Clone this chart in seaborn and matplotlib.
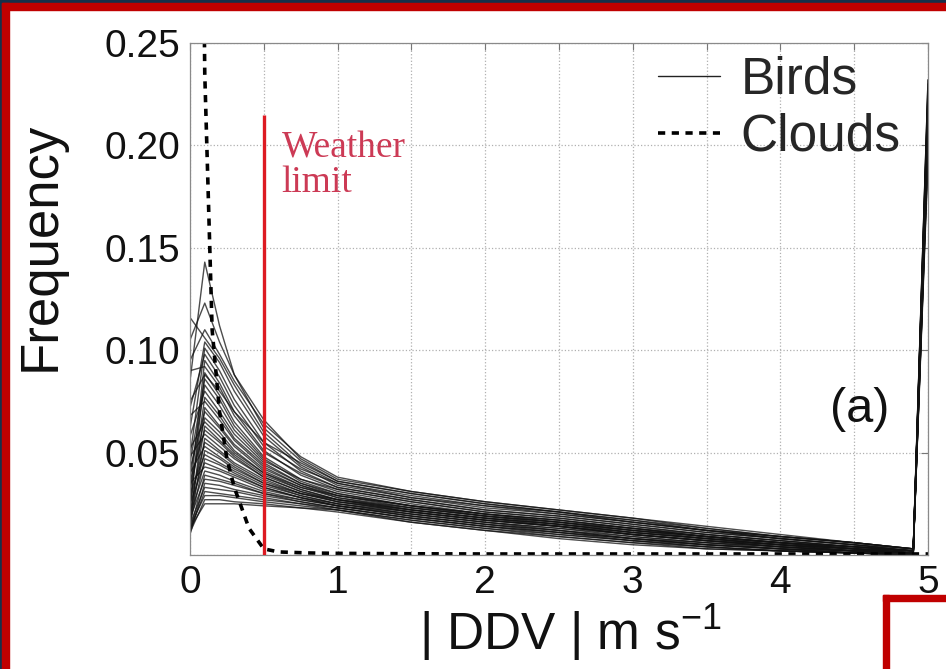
import numpy as np
import pandas as pd
import matplotlib
matplotlib.use("Agg")
import matplotlib.pyplot as plt
import seaborn as sns
from matplotlib.lines import Line2D
from matplotlib.patches import Rectangle

# ---------------- data ----------------
ddv = [0.0, 0.1, 0.2, 0.3, 0.5, 0.75, 1.0, 1.5, 2.0, 2.5, 3.0, 3.5, 4.0, 4.5, 4.9, 5.0]

b01 = [0.085, 0.143, 0.112, 0.088, 0.062, 0.046, 0.036, 0.030, 0.025, 0.021, 0.017, 0.013, 0.009, 0.006, 0.003, 0.228]
b02 = [0.105, 0.123, 0.104, 0.088, 0.066, 0.047, 0.037, 0.031, 0.026, 0.022, 0.018, 0.014, 0.010, 0.006, 0.003, 0.232]
b03 = [0.116, 0.106, 0.096, 0.083, 0.060, 0.044, 0.035, 0.029, 0.024, 0.021, 0.016, 0.012, 0.009, 0.006, 0.003, 0.215]
b04 = [0.062, 0.104, 0.094, 0.080, 0.058, 0.043, 0.034, 0.028, 0.023, 0.020, 0.016, 0.012, 0.008, 0.005, 0.003, 0.222]
b05 = [0.048, 0.101, 0.090, 0.076, 0.055, 0.041, 0.033, 0.027, 0.022, 0.019, 0.015, 0.011, 0.008, 0.005, 0.002, 0.205]
b06 = [0.072, 0.098, 0.087, 0.073, 0.053, 0.042, 0.035, 0.028, 0.024, 0.020, 0.016, 0.012, 0.009, 0.006, 0.003, 0.218]
b07 = [0.030, 0.095, 0.084, 0.070, 0.051, 0.039, 0.032, 0.026, 0.021, 0.018, 0.014, 0.010, 0.007, 0.004, 0.002, 0.210]
b08 = [0.090, 0.092, 0.082, 0.068, 0.050, 0.040, 0.033, 0.027, 0.022, 0.019, 0.015, 0.011, 0.008, 0.005, 0.002, 0.226]
b09 = [0.022, 0.089, 0.078, 0.065, 0.048, 0.037, 0.031, 0.025, 0.020, 0.017, 0.013, 0.009, 0.006, 0.004, 0.002, 0.195]
b10 = [0.045, 0.086, 0.076, 0.063, 0.047, 0.036, 0.030, 0.024, 0.020, 0.016, 0.012, 0.009, 0.006, 0.003, 0.002, 0.212]
b11 = [0.038, 0.083, 0.073, 0.061, 0.046, 0.037, 0.032, 0.026, 0.021, 0.018, 0.014, 0.010, 0.007, 0.004, 0.002, 0.224]
b12 = [0.058, 0.080, 0.070, 0.059, 0.045, 0.035, 0.030, 0.024, 0.019, 0.016, 0.012, 0.008, 0.006, 0.003, 0.001, 0.200]
b13 = [0.026, 0.077, 0.068, 0.057, 0.044, 0.035, 0.029, 0.023, 0.019, 0.015, 0.011, 0.008, 0.005, 0.003, 0.001, 0.216]
b14 = [0.068, 0.075, 0.066, 0.056, 0.043, 0.034, 0.029, 0.024, 0.020, 0.017, 0.013, 0.009, 0.006, 0.004, 0.002, 0.230]
b15 = [0.016, 0.072, 0.063, 0.054, 0.042, 0.034, 0.028, 0.022, 0.018, 0.014, 0.010, 0.007, 0.005, 0.002, 0.001, 0.198]
b16 = [0.042, 0.070, 0.062, 0.053, 0.041, 0.033, 0.028, 0.023, 0.019, 0.016, 0.012, 0.009, 0.006, 0.003, 0.002, 0.208]
b17 = [0.032, 0.067, 0.060, 0.051, 0.040, 0.033, 0.029, 0.024, 0.020, 0.017, 0.013, 0.010, 0.007, 0.004, 0.002, 0.220]
b18 = [0.052, 0.065, 0.058, 0.050, 0.040, 0.032, 0.027, 0.022, 0.018, 0.015, 0.011, 0.008, 0.005, 0.003, 0.001, 0.202]
b19 = [0.020, 0.063, 0.056, 0.049, 0.039, 0.032, 0.027, 0.021, 0.017, 0.014, 0.010, 0.007, 0.004, 0.002, 0.001, 0.214]
b20 = [0.036, 0.061, 0.055, 0.048, 0.038, 0.031, 0.027, 0.022, 0.018, 0.015, 0.011, 0.008, 0.005, 0.003, 0.001, 0.226]
b21 = [0.048, 0.059, 0.053, 0.047, 0.038, 0.031, 0.026, 0.021, 0.017, 0.014, 0.010, 0.007, 0.005, 0.002, 0.001, 0.206]
b22 = [0.015, 0.057, 0.051, 0.045, 0.037, 0.030, 0.026, 0.021, 0.017, 0.014, 0.010, 0.007, 0.004, 0.002, 0.001, 0.192]
b23 = [0.026, 0.055, 0.050, 0.044, 0.036, 0.030, 0.026, 0.022, 0.018, 0.015, 0.012, 0.009, 0.006, 0.003, 0.001, 0.212]
b24 = [0.040, 0.053, 0.048, 0.043, 0.035, 0.030, 0.027, 0.023, 0.019, 0.016, 0.013, 0.009, 0.006, 0.004, 0.002, 0.222]
b25 = [0.020, 0.051, 0.047, 0.042, 0.035, 0.029, 0.025, 0.020, 0.016, 0.013, 0.009, 0.006, 0.004, 0.002, 0.001, 0.200]
b26 = [0.030, 0.049, 0.045, 0.041, 0.034, 0.029, 0.025, 0.020, 0.016, 0.012, 0.008, 0.006, 0.003, 0.002, 0.001, 0.216]
b27 = [0.015, 0.047, 0.044, 0.040, 0.033, 0.028, 0.025, 0.021, 0.017, 0.014, 0.011, 0.008, 0.005, 0.003, 0.001, 0.232]
b28 = [0.025, 0.045, 0.042, 0.039, 0.033, 0.028, 0.024, 0.019, 0.015, 0.012, 0.008, 0.005, 0.003, 0.001, 0.001, 0.196]
b29 = [0.035, 0.043, 0.041, 0.038, 0.032, 0.028, 0.024, 0.020, 0.016, 0.013, 0.010, 0.007, 0.004, 0.002, 0.001, 0.210]
b30 = [0.020, 0.041, 0.039, 0.036, 0.031, 0.027, 0.024, 0.019, 0.015, 0.011, 0.008, 0.005, 0.003, 0.001, 0.001, 0.220]
b31 = [0.012, 0.039, 0.037, 0.035, 0.030, 0.027, 0.024, 0.019, 0.015, 0.012, 0.009, 0.006, 0.004, 0.002, 0.001, 0.204]
b32 = [0.018, 0.037, 0.036, 0.034, 0.030, 0.026, 0.023, 0.018, 0.014, 0.011, 0.007, 0.005, 0.003, 0.001, 0.000, 0.214]
b33 = [0.010, 0.035, 0.034, 0.032, 0.029, 0.026, 0.023, 0.018, 0.014, 0.011, 0.008, 0.005, 0.003, 0.002, 0.001, 0.226]
b34 = [0.015, 0.033, 0.032, 0.031, 0.028, 0.025, 0.023, 0.018, 0.014, 0.010, 0.007, 0.004, 0.002, 0.001, 0.000, 0.212]
b35 = [0.012, 0.031, 0.030, 0.029, 0.027, 0.025, 0.022, 0.017, 0.013, 0.010, 0.007, 0.004, 0.002, 0.001, 0.000, 0.200]
b36 = [0.014, 0.029, 0.029, 0.028, 0.026, 0.024, 0.022, 0.017, 0.013, 0.009, 0.006, 0.004, 0.002, 0.001, 0.000, 0.218]
b37 = [0.011, 0.027, 0.027, 0.026, 0.025, 0.023, 0.022, 0.016, 0.012, 0.009, 0.006, 0.003, 0.002, 0.001, 0.000, 0.206]
b38 = [0.013, 0.025, 0.025, 0.025, 0.024, 0.023, 0.021, 0.016, 0.012, 0.008, 0.005, 0.003, 0.002, 0.001, 0.000, 0.224]
b39 = [0.075, 0.088, 0.080, 0.070, 0.055, 0.045, 0.036, 0.030, 0.025, 0.021, 0.017, 0.012, 0.008, 0.005, 0.002, 0.210]
b40 = [0.095, 0.110, 0.098, 0.085, 0.064, 0.048, 0.038, 0.031, 0.026, 0.022, 0.018, 0.013, 0.009, 0.006, 0.003, 0.218]

cloud_ddv = [0.0, 0.05, 0.1, 0.15, 0.2, 0.25, 0.3, 0.4, 0.5, 0.6, 0.8, 1.0, 1.5,
             2.0, 2.5, 3.0, 3.5, 4.0, 4.5, 5.0]
cloud_freq = [0.9, 0.6, 0.235, 0.11, 0.07, 0.047, 0.033, 0.013, 0.003, 0.0015, 0.001,
              0.0008, 0.0006, 0.0005, 0.0005, 0.0005, 0.0005, 0.0005, 0.0005, 0.0005]

weather_limit = 0.5
weather_line_top = 0.215

x_ticks = [0, 0.5, 1, 1.5, 2, 2.5, 3, 3.5, 4, 4.5, 5]
x_ticklabels = ["0", "", "1", "", "2", "", "3", "", "4", "", "5"]
y_ticks = [0, 0.05, 0.10, 0.15, 0.20, 0.25]
y_ticklabels = ["", "0.05", "0.10", "0.15", "0.20", "0.25"]

# ---------------- style ----------------
sns.set_theme(style="white")
plt.rcParams["font.family"] = ["Liberation Sans", "DejaVu Sans"]
plt.rcParams["mathtext.fontset"] = "custom"
plt.rcParams["mathtext.rm"] = "Liberation Sans"
plt.rcParams["mathtext.it"] = "Liberation Sans"
plt.rcParams["mathtext.bf"] = "Liberation Sans:bold"

fig = plt.figure(figsize=(9.46, 6.69), dpi=100, facecolor="white")
ax = fig.add_axes([190 / 946, 1 - 555 / 669, (928 - 190) / 946, (555 - 43) / 669])
ax.set_facecolor("white")

birds = [b01, b02, b03, b04, b05, b06, b07, b08, b09, b10, b11, b12, b13, b14, b15,
         b16, b17, b18, b19, b20, b21, b22, b23, b24, b25, b26, b27, b28, b29, b30,
         b31, b32, b33, b34, b35, b36, b37, b38, b39, b40]
df = pd.DataFrame({
    "ddv": np.tile(ddv, len(birds)),
    "freq": np.concatenate(birds),
    "curve": np.repeat(np.arange(len(birds)), len(ddv)),
})
sns.lineplot(data=df, x="ddv", y="freq", units="curve", estimator=None,
             color="#111111", lw=1.0, alpha=0.75, ax=ax, legend=False)

cl = pd.DataFrame({"ddv": cloud_ddv, "freq": cloud_freq})
sns.lineplot(data=cl, x="ddv", y="freq", color="black", lw=2.6, ax=ax, legend=False)
ax.lines[-1].set_linestyle((0, (2.0, 1.8)))

ax.vlines(weather_limit, 0, weather_line_top, color="#dd1a22", lw=2.4, zorder=5)
ax.text(0.62, 0.207, "Weather\nlimit", color="#cc3a55", fontsize=27,
        family=["Liberation Serif", "DejaVu Serif"], ha="left", va="top", linespacing=1.0)
ax.text(4.54, 0.071, "(a)", fontsize=35, ha="center", va="center", color="#111111")

ax.set_xlim(0, 5)
ax.set_ylim(0, 0.25)
ax.set_xticks(x_ticks)
ax.set_xticklabels(x_ticklabels)
ax.set_yticks(y_ticks)
ax.set_yticklabels(y_ticklabels)
ax.tick_params(axis="both", direction="in", length=5, width=0.8, color="#777777",
               labelsize=28, labelcolor="#111111", top=True, right=True, pad=7)
ax.grid(True, ls=":", color="#b0b0b0", lw=0.9)
for s in ax.spines.values():
    s.set_color("#8a8a8a")
    s.set_linewidth(0.9)

ax.set_xlabel("| DDV | m s$^{-1}$", fontsize=37, color="#111111")
ax.set_ylabel("Frequency", fontsize=38, color="#111111")
ax.xaxis.set_label_coords(0.515, -0.092)
ax.yaxis.set_label_coords(-0.168, 0.603)

handles = [Line2D([], [], color="#222222", lw=1.0),
           Line2D([], [], color="black", lw=2.6, ls=(0, (2.0, 1.8)))]
ax.legend(handles, ["Birds", "Clouds"], loc="upper right", bbox_to_anchor=(0.998, 1.025),
          frameon=False, fontsize=37, handlelength=1.2, handletextpad=0.4,
          labelspacing=0.15, borderaxespad=0.1)

# slide decorations
dark = "#17304a"
red = "#c00000"
W, H = 946.0, 669.0
fig.patches.extend([
    Rectangle((0, 1 - 3 / H), 1, 3 / H, transform=fig.transFigure, color=dark, zorder=10),
    Rectangle((0, 0), 2 / W, 1, transform=fig.transFigure, color=dark, zorder=10),
    Rectangle((2 / W, 1 - 10 / H), 1, 7 / H, transform=fig.transFigure, color=red, zorder=11),
    Rectangle((2 / W, 0), 7 / W, 1 - 3 / H, transform=fig.transFigure, color=red, zorder=11),
    Rectangle((883 / W, 0), 6 / W, (H - 595) / H, transform=fig.transFigure, color=red, zorder=11),
    Rectangle((883 / W, 1 - 601 / H), 1, 6 / H, transform=fig.transFigure, color=red, zorder=11),
])

fig.savefig("out.png", dpi=100, facecolor="white")
